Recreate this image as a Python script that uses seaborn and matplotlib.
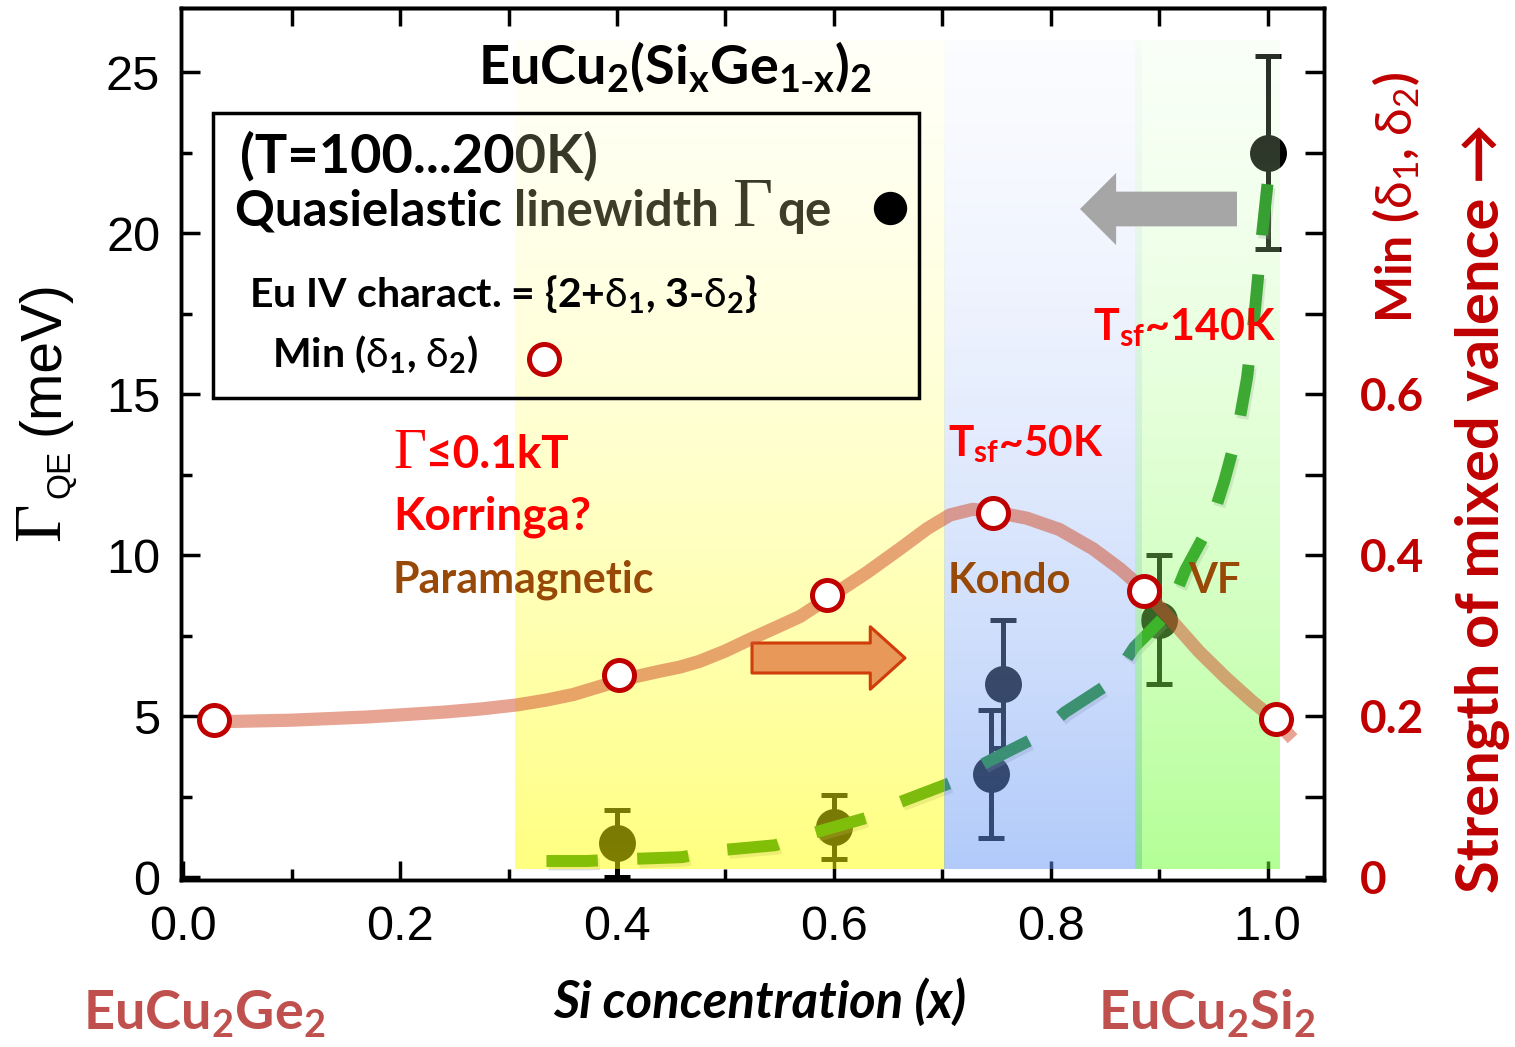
import numpy as np
import matplotlib
matplotlib.use("Agg")
import matplotlib.pyplot as plt
import matplotlib.transforms as mtransforms
import matplotlib.patches as mpatches
import matplotlib.patheffects as pe
from matplotlib.ticker import MultipleLocator
import seaborn as sns

# ---------------- data ----------------
# quasielastic linewidth Gamma_QE (meV), T = 100...200 K
x_qe = [0.400, 0.600, 0.745, 0.756, 0.900, 1.000]
gamma_qe = [1.05, 1.55, 3.2, 6.0, 8.0, 22.5]
gamma_err = [1.05, 1.0, 2.0, 2.0, 2.0, 3.0]

# Min(delta1, delta2) of the Eu valence {2+delta1, 3-delta2}
x_mv = [0.028, 0.402, 0.594, 0.747, 0.886, 1.008]
min_delta = [0.195, 0.251, 0.351, 0.452, 0.356, 0.196]

# guide to the eye through Min(delta1, delta2)
guide_x = [0.030, 0.100, 0.170, 0.240, 0.275, 0.308, 0.335, 0.360, 0.382, 0.402,
           0.420, 0.440, 0.458, 0.476, 0.500, 0.525, 0.548, 0.569, 0.595, 0.630,
           0.661, 0.686, 0.707, 0.728, 0.744, 0.778, 0.808, 0.839, 0.864, 0.886,
           0.912, 0.937, 0.962, 0.986, 1.008, 1.023]
guide_y = [0.193, 0.195, 0.199, 0.205, 0.209, 0.214, 0.220, 0.227, 0.236, 0.244,
           0.250, 0.256, 0.261, 0.268, 0.281, 0.297, 0.311, 0.324, 0.347, 0.378,
           0.408, 0.433, 0.450, 0.457, 0.455, 0.446, 0.432, 0.408, 0.383, 0.357,
           0.318, 0.280, 0.247, 0.218, 0.194, 0.172]

# trend of Gamma_QE with Si content (dashed)
trend_x = [0.335, 0.372, 0.410, 0.460, 0.497, 0.546, 0.581, 0.629, 0.661, 0.707,
           0.741, 0.785, 0.813, 0.856, 0.877, 0.908, 0.924, 0.948, 0.960, 0.972,
           0.981, 0.988, 0.995, 1.003]
trend_y = [0.50, 0.50, 0.56, 0.62, 0.84, 0.99, 1.37, 1.83, 2.33, 2.92,
           3.57, 4.32, 5.12, 6.06, 7.14, 8.20, 9.53, 11.02, 12.3, 13.8,
           15.5, 17.5, 20.0, 22.5]

# regimes (x ranges) and their tints
regime_x0 = [0.306, 0.702, 0.878]
regime_x1 = [0.702, 0.884, 1.011]
regime_top = [(255, 255, 215), (235, 240, 255), (225, 255, 215)]
regime_bot = [(255, 255, 0), (100, 150, 245), (105, 255, 45)]
regime_ylim = [0.25, 26.0]

x_ticks = [0.0, 0.2, 0.4, 0.6, 0.8, 1.0]
x_ticklabels = ["0.0", "0.2", "0.4", "0.6", "0.8", "1.0"]
y_ticks = [0, 5, 10, 15, 20, 25]
y_ticklabels = ["0", "5", "10", "15", "20", "25"]
r_ticks = [0.0, 0.1, 0.2, 0.3, 0.4, 0.5, 0.6, 0.7, 0.8, 0.9, 1.0]
r_ticklabels = ["0", "", "0.2", "", "0.4", "", "0.6", "", "", "", ""]

# ---------------- style ----------------
sns.set_theme(style="ticks")
SANS = ["Lato", "DejaVu Sans"]
plt.rcParams["font.family"] = SANS
plt.rcParams.update({
    "mathtext.fontset": "custom",
    "mathtext.rm": "Liberation Serif",
    "mathtext.bf": "Lato:bold",
    "mathtext.it": "Lato:italic",
    "mathtext.sf": "Lato",
    "mathtext.fallback": "stixsans",
    "axes.linewidth": 2.5,
})

DARKRED = "#C00000"
RED = "#FF0000"
BROWN = "#984807"
ROSE = "#C0504D"

W, H = 1515, 1047
fig = plt.figure(figsize=(W / 100, H / 100), dpi=100)
ax = fig.add_axes([181 / W, 1 - 880 / H, 1143 / W, 872 / H])
ID = mtransforms.IdentityTransform()
renderer = fig.canvas.get_renderer()


def P(xp, yp):
    """image pixel (from top-left) -> display coordinates"""
    return xp, H - yp


def put(xp, yp, s, z=7, **kw):
    x, y = P(xp, yp)
    kw.setdefault("ha", "left")
    kw.setdefault("va", "baseline")
    return ax.text(x, y, s, transform=ID, zorder=z, **kw)


def chain(xp, yp, pieces, z=7, color="black"):
    x, y = P(xp, yp)
    for s, kw, gap in pieces:
        t = ax.text(x, y, s, transform=ID, ha="left", va="baseline",
                    zorder=z, color=color, **kw)
        x = t.get_window_extent(renderer=renderer).x1 + gap


BOLD = dict(family=SANS, weight="bold")
SERIF = dict(family=["Liberation Serif", "DejaVu Serif"])

# ---------------- left axis: Gamma_QE ----------------
ax.errorbar(x_qe, gamma_qe, yerr=gamma_err, fmt="none", ecolor="black",
            elinewidth=3.6, capsize=9.7, capthick=3.6, zorder=2.2)
sns.scatterplot(x=x_qe, y=gamma_qe, ax=ax, s=26.6 ** 2, color="black",
                linewidth=0, zorder=2.4, legend=False)

trend = sns.lineplot(x=trend_x, y=trend_y, ax=ax, sort=False, estimator=None,
                     color=(10 / 255, 130 / 255, 10 / 255), lw=8.6, zorder=2.6,
                     legend=False).lines[-1]
trend.set_dashes((4.3, 3.3))
trend.set_dash_capstyle("butt")
trend.set_path_effects([pe.SimpleLineShadow(offset=(1.5, -2.5), shadow_color="gray",
                                            alpha=0.25), pe.Normal()])

# legend box (fill below the tints, frame above)
box_xy = (32 / 1143, (880 - 398) / 872)
box_w, box_h = 706 / 1143, 285 / 872
ax.add_patch(mpatches.Rectangle(box_xy, box_w, box_h, transform=ax.transAxes,
                                facecolor="white", edgecolor="none", zorder=1))
ax.add_patch(mpatches.Rectangle(box_xy, box_w, box_h, transform=ax.transAxes,
                                facecolor="none", edgecolor="black", lw=2.5, zorder=6))

put(240, 173, "(T=100...200K)", z=3, fontsize=39, color="black", **BOLD)
chain(235, 226, [("Quasielastic linewidth", dict(fontsize=35.5, **BOLD), 14),
                 ("Γ", dict(fontsize=50, **SERIF), 4),
                 ("qe", dict(fontsize=35.5, **BOLD), 0)], z=3)

# regime tints, graded from top to bottom
for x0, x1, ct, cb in zip(regime_x0, regime_x1, regime_top, regime_bot):
    f = np.linspace(0, 1, 300)[:, None]
    rgb = ((1 - f) * np.array(ct) + f * np.array(cb)) / 255
    alpha = (1 - f) * 0.18 + f * 0.50
    img = np.repeat(np.concatenate([rgb, alpha], axis=1)[:, None, :], 2, axis=1)
    ax.imshow(img, extent=[x0, x1, regime_ylim[0], regime_ylim[1]], origin="upper",
              aspect="auto", interpolation="bilinear", zorder=4)

# legend entries drawn above the tints
ax.plot(*P(890, 208), "o", ms=24, color="black", mew=0, transform=ID, zorder=7)
put(249, 308, r"Eu IV charact. = {2+$\mathsf{\delta}_\mathbf{1}$, 3-$\mathsf{\delta}_\mathbf{2}$}",
    fontsize=29.5, color="black", **BOLD)
put(272, 367, r"Min ($\mathsf{\delta}_\mathbf{1}$, $\mathsf{\delta}_\mathbf{2}$)",
    fontsize=29.5, color="black", **BOLD)
ax.plot(*P(544, 359), "o", ms=21.6, mfc="white", mec=DARKRED, mew=3.6,
        transform=ID, zorder=7)

# title
put(478, 84, r"$\mathbf{EuCu_2(Si_xGe_{1\text{-}x})_2}$", fontsize=39, color="black")

# regime annotations
chain(393, 468, [("Γ", dict(fontsize=41, **SERIF), 0),
                 ("≤0.1kT", dict(fontsize=33, **BOLD), 0)], color=RED)
put(393, 530, "Korringa?", fontsize=33, color=RED, **BOLD)
put(393, 593, "Paramagnetic", fontsize=31, color=BROWN, **BOLD)
put(948, 456, r"$\mathbf{T_{sf}}$~50K", fontsize=30.5, color=RED, **BOLD)
put(1093, 340, r"$\mathbf{T_{sf}}$~140K", fontsize=31, color=RED, **BOLD)
put(948, 593, "Kondo", fontsize=30, color=BROWN, **BOLD)
put(1188, 593, "VF", fontsize=30, color=BROWN, **BOLD)

# block arrows
ax.add_patch(mpatches.FancyArrowPatch(
    P(752, 658), P(905, 658), transform=ID, mutation_scale=1,
    arrowstyle=mpatches.ArrowStyle.Simple(head_length=25, head_width=45, tail_width=21.6),
    shrinkA=0, shrinkB=0, facecolor="#E8995A", edgecolor="#D03C0A", lw=2.2, zorder=7))
ax.add_patch(mpatches.FancyArrowPatch(
    P(1237, 209), P(1080, 209), transform=ID, mutation_scale=1,
    arrowstyle=mpatches.ArrowStyle.Simple(head_length=26, head_width=52, tail_width=25),
    shrinkA=0, shrinkB=0, facecolor="#A6A6A6", edgecolor="none", zorder=7))

# axis limits and ticks (left / bottom)
ax.set_xlim(-0.002, 1.052)
ax.set_ylim(-0.09, 27.0)
ax.set_xticks(x_ticks, labels=x_ticklabels, fontsize=35,
              fontfamily=["Liberation Sans", "DejaVu Sans"])
ax.set_yticks(y_ticks, labels=y_ticklabels, fontsize=35,
              fontfamily=["Liberation Sans", "DejaVu Sans"])
ax.xaxis.set_minor_locator(MultipleLocator(0.1))
ax.yaxis.set_minor_locator(MultipleLocator(2.5))
ax.tick_params(which="both", direction="in", width=2.5, color="black",
               top=False, right=False, labelcolor="black")
ax.tick_params(which="major", length=13.7)
ax.tick_params(which="minor", length=8.0)
ax.tick_params(axis="x", pad=18)
ax.tick_params(axis="y", pad=15)
for sp in ax.spines.values():
    sp.set_linewidth(2.5)
    sp.set_color("black")

top = ax.secondary_xaxis("top")
top.set_xticks(np.round(np.arange(0.1, 1.01, 0.1), 2))
top.tick_params(direction="in", length=13, width=2.5, labeltop=False, color="black")
top.spines["top"].set_linewidth(2.5)

# ---------------- right axis: Min(delta1, delta2) ----------------
ax2 = ax.twinx()
sns.lineplot(x=guide_x, y=guide_y, ax=ax2, sort=False, estimator=None,
             color=(210 / 255, 78 / 255, 45 / 255), alpha=0.515, lw=9.5,
             solid_capstyle="butt", solid_joinstyle="round", zorder=2, legend=False)
sns.scatterplot(x=x_mv, y=min_delta, ax=ax2, s=21.6 ** 2, facecolor="white",
                edgecolor=DARKRED, linewidth=3.6, zorder=3, legend=False)
ax2.set_ylim(-0.09 / 25, 27.0 / 25)
ax2.set_yticks(r_ticks, labels=r_ticklabels, fontsize=33, fontweight="bold",
               color=DARKRED, fontfamily=SANS)
ax2.tick_params(axis="y", direction="in", length=13.7, width=2.5, color="black",
                pad=26)
ax2.set_ylabel("")
ax.set_xlabel("")
ax.set_ylabel("")
for sp in ax2.spines.values():
    sp.set_linewidth(2.5)
    sp.set_color("black")


# ---------------- axis titles ----------------
def vtext(xc, ybot, s, **kw):
    fig.text(xc, H - ybot, s, transform=ID, rotation=90, ha="center", va="bottom", **kw)


vtext(43, 541, "Γ", fontsize=48, color="black", **SERIF)
vtext(61, 498, "QE", fontsize=24, color="black", family=["Liberation Sans"])
vtext(44, 435, "(meV)", fontsize=41, color="black", family=["Liberation Sans"])
vtext(1396, 323, r"Min ($\mathsf{\delta_1}$, $\mathsf{\delta_2}$)", fontsize=36,
      color=DARKRED, **BOLD)
vtext(1483, 893, "Strength of mixed valence →", fontsize=43, color=DARKRED, **BOLD)

put(760, 1018, "Si concentration (x)", fontsize=36.5, color="black", ha="center",
    family=SANS, weight="bold", style="italic")
put(83, 1030, r"$\mathbf{EuCu_2Ge_2}$", fontsize=39, color=ROSE)
put(1098, 1030, r"$\mathbf{EuCu_2Si_2}$", fontsize=39, color=ROSE)

fig.savefig("out.png", dpi=100)
